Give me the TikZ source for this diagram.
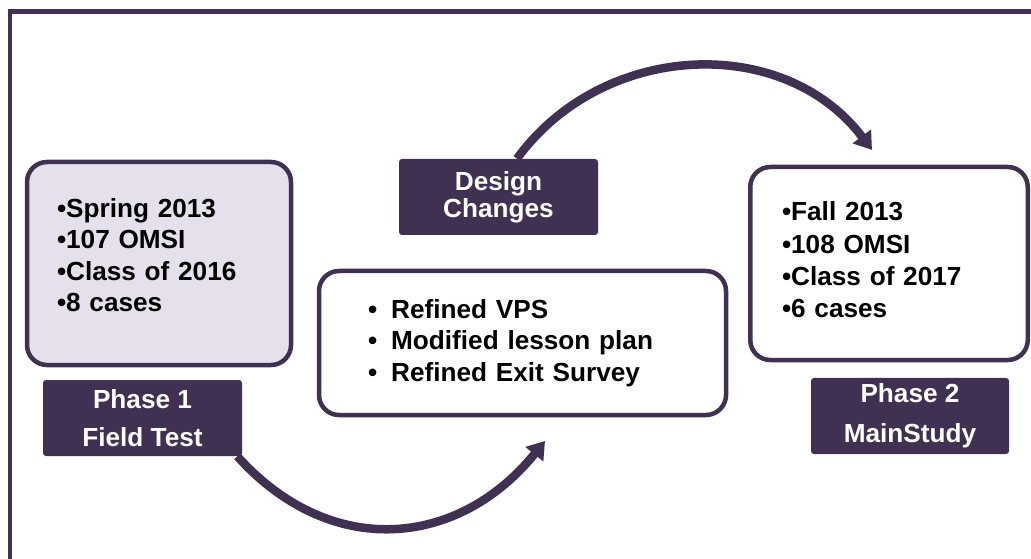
\documentclass[tikz,border=0pt]{standalone}
\usepackage{fontspec}
\setmainfont{Liberation Sans}
\usetikzlibrary{arrows.meta, positioning}
\definecolor{darkpurple}{RGB}{64,49,82}
\definecolor{lightlav}{RGB}{229,224,236}
\tikzset{
  phasebox/.style={fill=darkpurple, text=white, rounded corners=0.06cm, minimum width=3.98cm, minimum height=1.52cm, align=center, font=\bfseries\fontsize{14.9}{21.6}\selectfont},
  infobox/.style={draw=darkpurple, line width=0.09cm, rounded corners=0.4cm, align=left, inner xsep=0pt, font=\bfseries\fontsize{14.9}{17.8}\selectfont},
  flow/.style={draw=darkpurple, line width=0.17cm, ->}
}

\begin{document}
\begin{tikzpicture}[>={Triangle[length=0.34cm, width=0.44cm]}]

		\useasboundingbox (0,0) rectangle (20.62,-11.18);
		\draw [darkpurple, line width=0.09cm] (0.2,-11.18) |- (20.62,-0.23);

		\node [infobox, fill=lightlav, minimum width=5.28cm, minimum height=4.06cm, text width=4.08cm, text depth=63pt] (fld) at (3.18,-5.27) {•Spring 2013\\•107 OMSI\\•Class of 2016\\•8 cases};
		\node [infobox, fill=white, minimum width=8.14cm, minimum height=2.88cm, text width=6.18cm] (chg) at (10.45,-6.86) {•\hspace{0.28cm}Refined VPS\\•\hspace{0.28cm}Modified lesson plan\\•\hspace{0.28cm}Refined Exit Survey};
		\node [infobox, fill=white, minimum width=5.55cm, minimum height=3.86cm, text width=4.28cm, text depth=59.5pt, font=\bfseries\fontsize{14.9}{18.4}\selectfont] (main) at (17.78,-5.27) {•Fall 2013\\•108 OMSI\\•Class of 2017\\•6 cases};

		\node [phasebox] (ph1) at (2.85,-8.36) {Phase 1\\Field Test};
		\node [phasebox, font=\bfseries\fontsize{14.9}{15.3}\selectfont] (dc) at (9.97,-3.94) {Design\\Changes};
		\node [phasebox, minimum width=3.96cm, font=\bfseries\fontsize{14.9}{22.7}\selectfont] (ph2) at (18.2,-8.32) {Phase 2\\MainStudy};

		\coordinate (topend) at (17.44,-3.0);
		\coordinate (lowend) at (10.9,-8.82);
		\draw [flow] ([xshift=0.37cm]dc.north) to[out=54, in=127, looseness=1.05] (topend);
		\draw [flow] ([xshift=-0.1cm]ph1.south east) to[out=-48, in=-129, looseness=1.15] (lowend);

\end{tikzpicture}
\end{document}
